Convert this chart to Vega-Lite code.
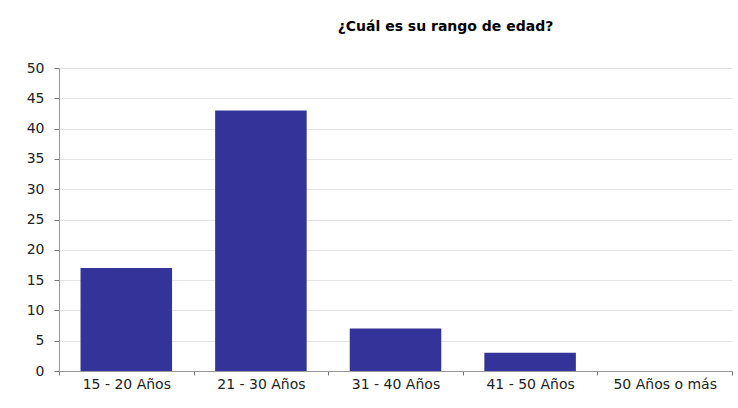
{
  "$schema": "https://vega.github.io/schema/vega-lite/v6.json",
  "autosize": {"type": "none"},
  "width": 673,
  "height": 303,
  "padding": {"left": 59, "top": 68, "right": 6, "bottom": 37},
  "background": "white",
  "title": {
    "text": "¿Cuál es su rango de edad?",
    "font": "DejaVu Sans",
    "fontSize": 14,
    "fontWeight": "bold",
    "color": "#000000",
    "anchor": "middle",
    "dx": 50,
    "offset": 27
  },
  "data": {
    "values": [
      {"rango": "15 - 20 Años", "n": 17},
      {"rango": "21 - 30 Años", "n": 43},
      {"rango": "31 - 40 Años", "n": 7},
      {"rango": "41 - 50 Años", "n": 3},
      {"rango": "50 Años o más", "n": 0}
    ]
  },
  "mark": {"type": "bar", "color": "#333399", "width": {"band": 0.68}},
  "encoding": {
    "x": {
      "field": "rango",
      "type": "nominal",
      "sort": null,
      "scale": {"paddingInner": 0, "paddingOuter": 0},
      "axis": {
        "title": null,
        "labelAngle": 0,
        "tickBand": "extent",
        "grid": false,
        "domainColor": "#999999",
        "tickColor": "#777777",
        "tickSize": 4,
        "labelFont": "DejaVu Sans",
        "labelFontSize": 14,
        "labelColor": "#222222",
        "labelPadding": 2
      }
    },
    "y": {
      "field": "n",
      "type": "quantitative",
      "scale": {"domain": [0, 50]},
      "axis": {
        "title": null,
        "values": [0, 5, 10, 15, 20, 25, 30, 35, 40, 45, 50],
        "grid": true,
        "gridColor": "#e4e4e4",
        "domainColor": "#999999",
        "tickColor": "#777777",
        "tickSize": 5,
        "labelFont": "DejaVu Sans",
        "labelFontSize": 14,
        "labelColor": "#222222",
        "labelPadding": 10
      }
    }
  },
  "config": {"view": {"stroke": null}}
}
